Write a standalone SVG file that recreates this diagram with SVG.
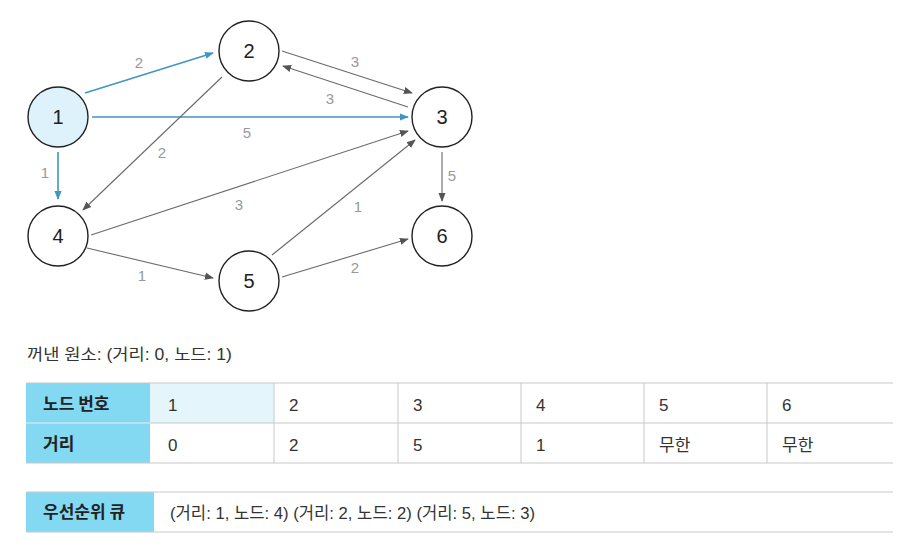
<svg xmlns="http://www.w3.org/2000/svg" width="912" height="554" viewBox="0 0 912 554">
<defs>
<style>
.node circle{fill:#fff;stroke:#222;stroke-width:1.4}
.node text{font-family:"Liberation Sans",Arial,sans-serif;font-size:20px;fill:#222;text-anchor:middle}
.e{fill:none;stroke:#6a6a6a;stroke-width:1.1}
.b{fill:none;stroke:#3f96c2;stroke-width:1.6}
.lbl{font-family:"Liberation Sans",Arial,sans-serif;font-size:15px;fill:#999;text-anchor:middle}
.kr{font-family:"Liberation Sans","Noto Sans CJK KR",sans-serif;fill:#333}
.hd{font-family:"Noto Sans CJK KR",sans-serif;font-weight:bold;font-size:17px;fill:#222}
.cell{font-family:"Liberation Sans","Noto Sans CJK KR",sans-serif;font-size:17px;fill:#333}
.gl{stroke:#c8c8c8;stroke-width:1}
.hl{fill:#83d9f2}
</style>
<marker id="ag" viewBox="0 0 10 10" refX="9" refY="5" markerWidth="9" markerHeight="9" markerUnits="userSpaceOnUse" orient="auto"><path d="M0,1 L10,5 L0,9 z" fill="#555"/></marker>
<marker id="ab" viewBox="0 0 10 10" refX="9" refY="5" markerWidth="9" markerHeight="9" markerUnits="userSpaceOnUse" orient="auto"><path d="M0,1 L10,5 L0,9 z" fill="#3f96c2"/></marker>
</defs>
<rect width="912" height="554" fill="#fff"/>
<g id="connectors">
<line class="b" x1="85" y1="93" x2="213" y2="53" marker-end="url(#ab)"/>
<line class="b" x1="92" y1="117" x2="408" y2="117" marker-end="url(#ab)"/>
<line class="b" x1="58" y1="152" x2="58" y2="199" marker-end="url(#ab)"/>
<line class="e" x1="282" y1="51" x2="412" y2="93" marker-end="url(#ag)"/>
<line class="e" x1="408" y1="107" x2="283" y2="66" marker-end="url(#ag)"/>
<line class="e" x1="222" y1="77" x2="83" y2="210" marker-end="url(#ag)"/>
<line class="e" x1="442" y1="152" x2="442" y2="201" marker-end="url(#ag)"/>
<line class="e" x1="91" y1="235" x2="408" y2="131" marker-end="url(#ag)"/>
<line class="e" x1="87" y1="248" x2="213" y2="278" marker-end="url(#ag)"/>
<line class="e" x1="272" y1="255" x2="415" y2="140" marker-end="url(#ag)"/>
<line class="e" x1="282" y1="277" x2="408" y2="239" marker-end="url(#ag)"/>
<text class="lbl" x="139" y="68">2</text>
<text class="lbl" x="247" y="138">5</text>
<text class="lbl" x="45" y="178">1</text>
<text class="lbl" x="355" y="67">3</text>
<text class="lbl" x="330" y="104">3</text>
<text class="lbl" x="162" y="158">2</text>
<text class="lbl" x="452" y="181">5</text>
<text class="lbl" x="239" y="210">3</text>
<text class="lbl" x="142" y="281">1</text>
<text class="lbl" x="358" y="212">1</text>
<text class="lbl" x="355" y="273">2</text>
</g>
<g id="node1" class="node"><circle cx="58" cy="117" r="30" style="fill:#ddf2fa"/><text x="58" y="124">1</text></g>
<g id="node2" class="node"><circle cx="249" cy="51" r="30"/><text x="249" y="58">2</text></g>
<g id="node3" class="node"><circle cx="442" cy="117" r="30"/><text x="442" y="124">3</text></g>
<g id="node4" class="node"><circle cx="58" cy="236" r="30"/><text x="58" y="243">4</text></g>
<g id="node5" class="node"><circle cx="249" cy="281" r="30"/><text x="249" y="288">5</text></g>
<g id="node6" class="node"><circle cx="442" cy="236" r="30"/><text x="442" y="243">6</text></g>
<g id="popped">
<text class="kr" x="27" y="360" font-size="16" textLength="205" lengthAdjust="spacingAndGlyphs">꺼낸 원소: (거리: 0, 노드: 1)</text>
</g>
<g id="table">
<rect class="hl" x="26" y="383" width="124" height="80"/>
<rect x="150" y="383" width="124" height="40" fill="#e4f6fc"/>
<line class="gl" x1="26" y1="383" x2="893" y2="383" stroke-width="2"/>
<line class="gl" x1="26" y1="423" x2="893" y2="423" stroke-width="1.5"/>
<line class="gl" x1="26" y1="463" x2="893" y2="463" stroke-width="1.5"/>
<line class="gl" x1="274" y1="383" x2="274" y2="463"/>
<line class="gl" x1="398" y1="383" x2="398" y2="463"/>
<line class="gl" x1="521" y1="383" x2="521" y2="463"/>
<line class="gl" x1="644" y1="383" x2="644" y2="463"/>
<line class="gl" x1="767" y1="383" x2="767" y2="463"/>
<line x1="150" y1="423" x2="26" y2="423" stroke="#bfe9f6" stroke-width="1.5"/>
<text class="hd" x="43" y="410">노드 번호</text>
<text class="hd" x="43" y="450">거리</text>
<text class="cell" x="168" y="411">1</text>
<text class="cell" x="289" y="411">2</text>
<text class="cell" x="413" y="411">3</text>
<text class="cell" x="536" y="411">4</text>
<text class="cell" x="659" y="411">5</text>
<text class="cell" x="782" y="411">6</text>
<text class="cell" x="168" y="451">0</text>
<text class="cell" x="289" y="451">2</text>
<text class="cell" x="413" y="451">5</text>
<text class="cell" x="536" y="451">1</text>
<text class="cell" x="659" y="451">무한</text>
<text class="cell" x="782" y="451">무한</text>
</g>
<g id="queue">
<rect class="hl" x="26" y="492" width="128" height="40"/>
<line class="gl" x1="26" y1="492" x2="893" y2="492" stroke-width="2"/>
<line class="gl" x1="26" y1="532" x2="893" y2="532" stroke-width="1.5"/>
<text class="hd" x="43" y="518">우선순위 큐</text>
<text class="cell" x="170" y="519" font-size="16" textLength="365" lengthAdjust="spacingAndGlyphs">(거리: 1, 노드: 4) (거리: 2, 노드: 2) (거리: 5, 노드: 3)</text>
</g>
</svg>
